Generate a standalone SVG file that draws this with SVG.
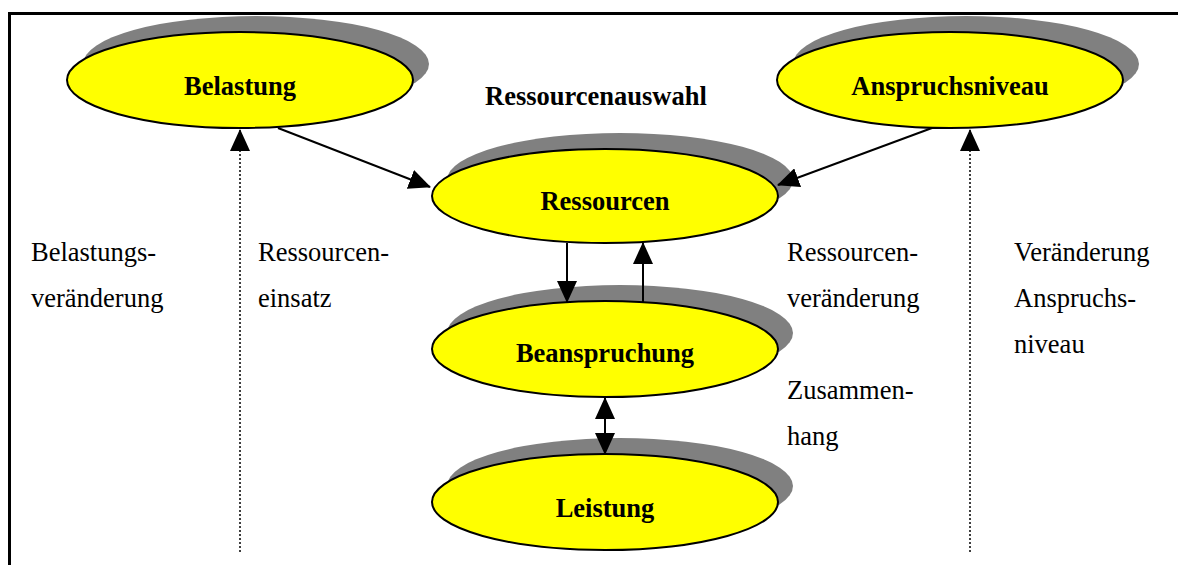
<svg xmlns="http://www.w3.org/2000/svg" width="1178" height="565" viewBox="0 0 1178 565">
  <style>
    .shadow { fill: #808080; }
    .node { fill: #ffff00; stroke: #000; stroke-width: 2; }
    .nlabel { font-family: "Liberation Serif", "Times New Roman", serif; font-size: 26.5px; font-weight: bold; text-anchor: middle; fill: #000; }
    .label { font-family: "Liberation Serif", "Times New Roman", serif; font-size: 26.5px; fill: #000; }
    .bold { font-weight: bold; }
    .solid { stroke: #000; stroke-width: 2; fill: none; }
    .dotted { stroke: #000; stroke-width: 1.5; fill: none; stroke-dasharray: 2 2; }
  </style>
  <defs>
    <marker id="arr" markerUnits="userSpaceOnUse" markerWidth="22" markerHeight="20" refX="21" refY="10" orient="auto-start-reverse">
      <path d="M0,0 L22,10 L0,20 Z" fill="#000"/>
    </marker>
  </defs>
  <rect width="1178" height="565" fill="#fff"/>
  <path d="M9.5,565 V13.5 H1178" fill="none" stroke="#000" stroke-width="3"/>

  <g id="node-belastung">
    <ellipse class="shadow" cx="256" cy="64" rx="173" ry="48"/>
    <ellipse class="node" cx="240" cy="80" rx="173" ry="48"/>
    <text class="nlabel" x="240" y="95">Belastung</text>
  </g>
  <g id="node-anspruchsniveau">
    <ellipse class="shadow" cx="966" cy="64" rx="173" ry="48"/>
    <ellipse class="node" cx="950" cy="80" rx="173" ry="48"/>
    <text class="nlabel" x="950" y="95">Anspruchsniveau</text>
  </g>
  <g id="node-ressourcen">
    <ellipse class="shadow" cx="620" cy="180" rx="173" ry="47"/>
    <ellipse class="node" cx="605" cy="196" rx="173" ry="47"/>
    <text class="nlabel" x="605" y="210">Ressourcen</text>
  </g>
  <g id="node-beanspruchung">
    <ellipse class="shadow" cx="620" cy="333" rx="173" ry="48"/>
    <ellipse class="node" cx="605" cy="349" rx="173" ry="48"/>
    <text class="nlabel" x="605" y="362">Beanspruchung</text>
  </g>
  <g id="node-leistung">
    <ellipse class="shadow" cx="620" cy="486" rx="173" ry="48"/>
    <ellipse class="node" cx="605" cy="502" rx="173" ry="48"/>
    <text class="nlabel" x="605" y="517">Leistung</text>
  </g>

  <g id="connectors">
    <path class="solid" d="M278,128 L430,187" marker-end="url(#arr)"/>
    <path class="solid" d="M932,128 L778,185" marker-end="url(#arr)"/>
    <path class="solid" d="M567,243 L567,302" marker-end="url(#arr)"/>
    <path class="solid" d="M643,302 L643,243" marker-end="url(#arr)"/>
    <path class="solid" d="M605,398 L605,454" marker-start="url(#arr)" marker-end="url(#arr)"/>
    <path class="dotted" d="M240,552 L240,130" marker-end="url(#arr)"/>
    <path class="dotted" d="M970,552 L970,130" marker-end="url(#arr)"/>
  </g>

  <g id="labels">
    <text class="label bold" x="485" y="105">Ressourcenauswahl</text>
    <text class="label" x="31" y="261">Belastungs-</text>
    <text class="label" x="31" y="307">veränderung</text>
    <text class="label" x="258" y="261">Ressourcen-</text>
    <text class="label" x="258" y="307">einsatz</text>
    <text class="label" x="787" y="261">Ressourcen-</text>
    <text class="label" x="787" y="307">veränderung</text>
    <text class="label" x="787" y="399">Zusammen-</text>
    <text class="label" x="787" y="445">hang</text>
    <text class="label" x="1014" y="261">Veränderung</text>
    <text class="label" x="1014" y="307">Anspruchs-</text>
    <text class="label" x="1014" y="353">niveau</text>
  </g>
</svg>
